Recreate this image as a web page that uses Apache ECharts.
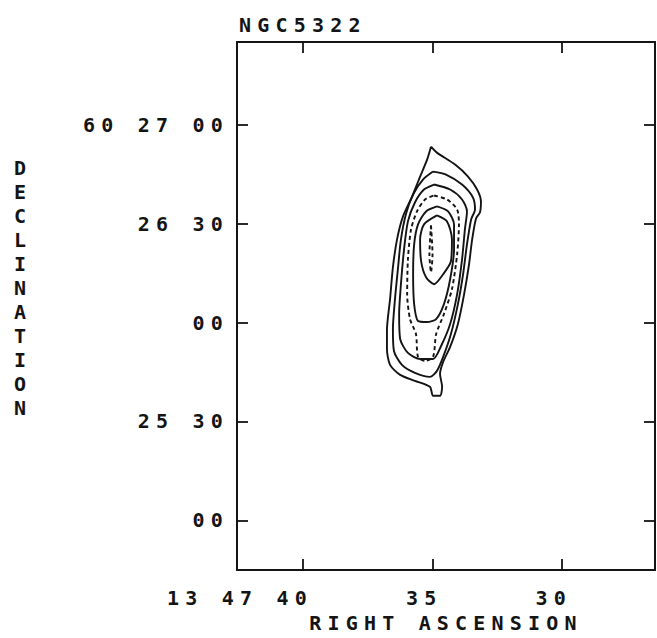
<!DOCTYPE html>
<html>
<head>
<meta charset="utf-8">
<script src="https://cdn.jsdelivr.net/npm/echarts@6/dist/echarts.min.js"></script>
<style>
  html, body { margin: 0; padding: 0; background: #fff; }
  #chart { width: 657px; height: 638px; }
  #chart text { letter-spacing: 6.2px !important; }
</style>
</head>
<body>
<div id="chart"></div>
<script>
// ---- Data (RA in seconds of 13h47m; Dec in arcsec above 60°25'00") ----
const chartTitle = 'NGC5322';
const xAxisTitle = 'RIGHT ASCENSION';
const yAxisTitle = 'DECLINATION';

const raLimits = [26.41, 42.55];
const decLimits = [-15.1, 145.1];

const raTicks = [40, 35, 30];
const raTickLabels = ['13 47 40', '35', '30'];
const decTicks = [0, 30, 60, 90, 120];
const decTickLabels = ['00', '25 30', '00', '26 30', '60 27 00'];

// contour levels, outermost first
const contour1 = [
  [35.06, 113.35], [34.83, 111.54], [34.13, 107.91], [33.63, 104.28], [33.28, 100.35],
  [33.13, 96.72], [33.17, 93.40], [33.32, 91.58], [33.47, 85.24], [33.59, 77.68],
  [33.78, 68.61], [34.02, 59.54], [34.32, 52.59], [34.59, 48.06], [34.71, 44.42],
  [34.63, 40.50], [34.71, 37.78], [34.98, 37.78], [35.10, 40.50], [35.68, 42.31],
  [36.25, 44.12], [36.64, 47.15], [36.76, 51.98], [36.76, 57.73], [36.64, 67.10],
  [36.53, 76.77], [36.37, 85.24], [36.14, 92.19], [35.79, 98.23], [35.48, 104.28],
  [35.21, 109.42], [35.06, 113.35]
];
const contour2 = [
  [34.98, 105.79], [34.48, 104.88], [33.86, 101.86], [33.44, 97.93], [33.36, 94.30],
  [33.51, 91.28], [33.67, 83.72], [33.82, 74.65], [34.02, 65.59], [34.29, 56.52],
  [34.59, 49.57], [34.83, 45.33], [35.10, 43.52], [35.68, 44.73], [36.18, 47.15],
  [36.49, 51.38], [36.53, 58.03], [36.45, 67.10], [36.33, 76.77], [36.22, 85.24],
  [36.02, 93.09], [35.75, 98.84], [35.37, 103.37], [34.98, 105.79]
];
const contour3 = [
  [34.94, 101.86], [34.32, 100.35], [33.86, 97.33], [33.67, 93.70], [33.75, 88.26],
  [33.86, 79.19], [34.05, 68.61], [34.32, 59.54], [34.67, 52.89], [34.98, 48.96],
  [35.48, 48.96], [35.95, 50.78], [36.25, 55.01], [36.29, 62.56], [36.22, 71.63],
  [36.10, 82.21], [35.95, 90.68], [35.68, 96.42], [35.33, 100.35], [34.94, 101.86]
];
const contour4 = [
  [34.94, 98.54], [34.44, 97.33], [34.05, 94.30], [33.98, 89.77], [34.05, 80.70],
  [34.25, 70.12], [34.56, 62.56], [34.86, 56.52], [34.98, 49.57], [35.29, 48.36],
  [35.56, 49.57], [35.64, 56.52], [35.87, 61.05], [35.98, 68.61], [35.95, 79.19],
  [35.83, 88.26], [35.60, 93.70], [35.29, 97.33], [34.94, 98.54]
];
const contour5 = [
  [34.83, 95.21], [34.40, 93.70], [34.17, 89.77], [34.17, 82.21], [34.32, 73.14],
  [34.56, 65.59], [34.86, 61.05], [35.21, 60.14], [35.56, 60.45], [35.71, 65.59],
  [35.75, 74.65], [35.71, 83.72], [35.56, 89.77], [35.25, 93.70], [34.83, 95.21]
];
const contour6 = [
  [34.83, 92.49], [34.44, 90.68], [34.25, 85.24], [34.29, 78.58], [34.59, 74.65],
  [34.94, 71.63], [35.25, 73.75], [35.44, 78.58], [35.48, 85.24], [35.33, 89.77],
  [34.83, 92.49]
];
const contour7 = [
  [35.06, 89.47], [35.00, 80.70], [35.06, 75.26], [35.12, 80.70], [35.06, 89.47]
];
const contourSets = [contour1, contour2, contour3, contour4, contour5, contour6, contour7];
const contourDashed = [false, false, false, true, false, false, true];

// ---- Chart ----
const FONT = "'DejaVu Sans Mono', monospace";
const INK = '#141414';
const chart = echarts.init(document.getElementById('chart'), null, { renderer: 'svg' });

const decLabelOf = v => decTickLabels[decTicks.indexOf(v)];
const raLabelOf = v => raTickLabels[raTicks.indexOf(v)];

const baseAxisLine = { show: true, onZero: false, lineStyle: { color: INK, width: 2 } };
const baseTick = { show: true, inside: true, length: 11, lineStyle: { color: INK, width: 1.8 } };
const textBase = { fontFamily: FONT, fontSize: 20, fontWeight: 'bold', color: INK };

const option = {
  backgroundColor: '#fff',
  animation: false,
  title: {
    text: chartTitle,
    left: 234,
    top: 10,
    textStyle: Object.assign({}, textBase)
  },
  grid: { left: 237, right: 2, top: 42, bottom: 66, containLabel: false },
  xAxis: [
    {
      type: 'value', position: 'bottom', inverse: true,
      min: raLimits[0], max: raLimits[1],
      axisLine: baseAxisLine,
      axisTick: Object.assign({ customValues: raTicks }, baseTick),
      axisLabel: Object.assign({
        show: true, customValues: raTicks, align: 'right', margin: 18,
        padding: [0, -10, 0, 0],
        formatter: v => raLabelOf(v)
      }, textBase),
      splitLine: { show: false },
      name: xAxisTitle, nameLocation: 'middle', nameGap: 38,
      nameTextStyle: Object.assign({}, textBase)
    },
    {
      type: 'value', position: 'top', inverse: true,
      min: raLimits[0], max: raLimits[1],
      axisLine: baseAxisLine,
      axisTick: Object.assign({ customValues: raTicks }, baseTick),
      axisLabel: { show: false },
      splitLine: { show: false }
    }
  ],
  yAxis: [
    {
      type: 'value', position: 'left',
      min: decLimits[0], max: decLimits[1],
      axisLine: baseAxisLine,
      axisTick: Object.assign({ customValues: decTicks }, baseTick),
      axisLabel: Object.assign({
        show: true, customValues: decTicks, margin: 8,
        formatter: v => decLabelOf(v)
      }, textBase),
      splitLine: { show: false }
    },
    {
      type: 'value', position: 'right',
      min: decLimits[0], max: decLimits[1],
      axisLine: baseAxisLine,
      axisTick: Object.assign({ customValues: decTicks }, baseTick),
      axisLabel: { show: false },
      splitLine: { show: false }
    }
  ],
  graphic: [
    {
      type: 'text', x: 23, y: 156,
      style: {
        text: yAxisTitle.split('').join('\n'),
        font: "bold 20px " + FONT,
        lineHeight: 24,
        fill: INK,
        textAlign: 'center',
        textVerticalAlign: 'top'
      }
    }
  ],
  series: contourSets.map((c, i) => ({
    type: 'line',
    xAxisIndex: 0, yAxisIndex: 0,
    data: c,
    showSymbol: false,
    smooth: 0.25,
    silent: true,
    lineStyle: { color: INK, width: 1.9, type: contourDashed[i] ? [4, 3] : 'solid' }
  }))
};
chart.setOption(option);
</script>
</body>
</html>
